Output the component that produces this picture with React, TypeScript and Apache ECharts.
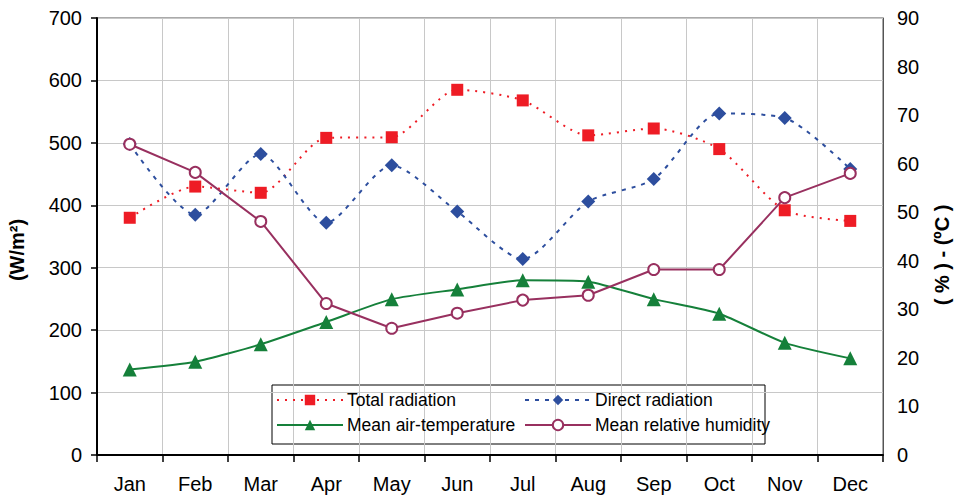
import React, { useEffect, useRef } from "react";
import * as echarts from "echarts";

const months = ["Jan", "Feb", "Mar", "Apr", "May", "Jun", "Jul", "Aug", "Sep", "Oct", "Nov", "Dec"];
const totalRadiation = [380, 430, 420, 508, 509, 585, 568, 512, 523, 490, 392, 375];
const directRadiation = [498, 385, 482, 372, 464, 390, 314, 406, 442, 547, 540, 458];
const airTemperature = [17.6, 19.2, 22.8, 27.4, 32.1, 34.1, 36.0, 35.7, 32.1, 29.1, 23.1, 19.9];
const relativeHumidity = [64.0, 58.2, 48.1, 31.2, 26.1, 29.2, 31.9, 32.9, 38.2, 38.2, 53.0, 58.0];

const FONT = "'Liberation Sans', Arial, sans-serif";

export default function App() {
  const ref = useRef<HTMLDivElement>(null);
  useEffect(() => {
    if (!ref.current) return;
    const chart = echarts.init(ref.current, null, { renderer: "svg" });
    const legendText = { fontSize: 17.5, color: "#000", fontFamily: FONT, padding: [0, 0, 0, -1] };
    const legendCommon = {
      orient: "vertical",
      top: 391,
      padding: 0,
      itemWidth: 66,
      itemHeight: 13,
      itemGap: 7,
      textStyle: legendText,
      selectedMode: false,
    };
    chart.setOption({
      animation: false,
      textStyle: { fontFamily: FONT },
      grid: {
        left: 97,
        right: 76,
        top: 18,
        bottom: 42,
        show: true,
        borderColor: "#555",
        borderWidth: 1,
        backgroundColor: "transparent",
      },
      xAxis: {
        type: "category",
        data: months,
        boundaryGap: true,
        axisLine: { lineStyle: { color: "#000", width: 2 } },
        axisTick: { show: true, interval: 0, length: 7, lineStyle: { color: "#000", width: 1.5 } },
        axisLabel: { color: "#000", fontSize: 20, margin: 19, fontFamily: FONT },
        splitLine: { show: true, interval: 0, lineStyle: { color: "#c8c8c8", width: 1 } },
      },
      yAxis: [
        {
          type: "value",
          min: 0,
          max: 700,
          interval: 100,
          axisLine: { show: true, lineStyle: { color: "#000", width: 2 } },
          axisTick: { show: true, length: 6, lineStyle: { color: "#000", width: 1.5 } },
          axisLabel: { color: "#000", fontSize: 20, margin: 15, fontFamily: FONT },
          splitLine: { show: true, lineStyle: { color: "#c8c8c8", width: 1 } },
        },
        {
          type: "value",
          min: 0,
          max: 90,
          interval: 10,
          position: "right",
          axisLine: { show: true, lineStyle: { color: "#555", width: 1 } },
          axisTick: { show: false },
          axisLabel: { color: "#000", fontSize: 20, margin: 14, fontFamily: FONT },
          splitLine: { show: false },
        },
      ],
      legend: [
        { ...legendCommon, data: ["Total radiation", "Mean air-temperature"], left: 276 },
        { ...legendCommon, data: ["Direct radiation", "Mean relative humidity"], left: 524 },
      ],
      graphic: [
        {
          type: "rect",
          shape: { x: 272, y: 385, width: 493, height: 59 },
          style: { fill: "#fff", stroke: "#000", lineWidth: 1 },
          z: 0,
          zlevel: 0,
        },
        {
          type: "text",
          x: 17,
          y: 250,
          rotation: Math.PI / 2,
          style: {
            text: "(W/m²)",
            fontSize: 20,
            fontWeight: "bold",
            fontFamily: FONT,
            fill: "#000",
            align: "center",
            verticalAlign: "middle",
          },
        },
        {
          type: "text",
          x: 942,
          y: 255,
          rotation: Math.PI / 2,
          style: {
            text: "( % ) - (ºC )",
            fontSize: 20,
            fontWeight: "bold",
            fontFamily: FONT,
            fill: "#000",
            align: "center",
            verticalAlign: "middle",
          },
        },
      ],
      series: [
        {
          name: "Total radiation",
          type: "line",
          data: totalRadiation,
          yAxisIndex: 0,
          smooth: 0.25,
          symbol: "rect",
          symbolSize: 12,
          itemStyle: { color: "#EE1C25" },
          lineStyle: { color: "#EE1C25", width: 2, type: [2, 6] },
          z: 3,
        },
        {
          name: "Direct radiation",
          type: "line",
          data: directRadiation,
          yAxisIndex: 0,
          smooth: 0.25,
          symbol: "diamond",
          symbolSize: 14,
          itemStyle: { color: "#2D4E9E" },
          lineStyle: { color: "#2D4E9E", width: 2, type: [4, 6] },
          z: 3,
        },
        {
          name: "Mean air-temperature",
          type: "line",
          data: airTemperature,
          yAxisIndex: 1,
          smooth: 0.2,
          symbol: "triangle",
          symbolSize: 14,
          itemStyle: { color: "#15803A" },
          lineStyle: { color: "#15803A", width: 2 },
          z: 3,
        },
        {
          name: "Mean relative humidity",
          type: "line",
          data: relativeHumidity,
          yAxisIndex: 1,
          symbol: "emptyCircle",
          symbolSize: 11,
          itemStyle: { color: "#98305F", borderWidth: 1.5 },
          lineStyle: { color: "#98305F", width: 2 },
          z: 4,
        },
      ],
    });
    return () => chart.dispose();
  }, []);
  return <div ref={ref} style={{ width: 959, height: 497, position: "absolute", left: 0, top: 0 }} />;
}
